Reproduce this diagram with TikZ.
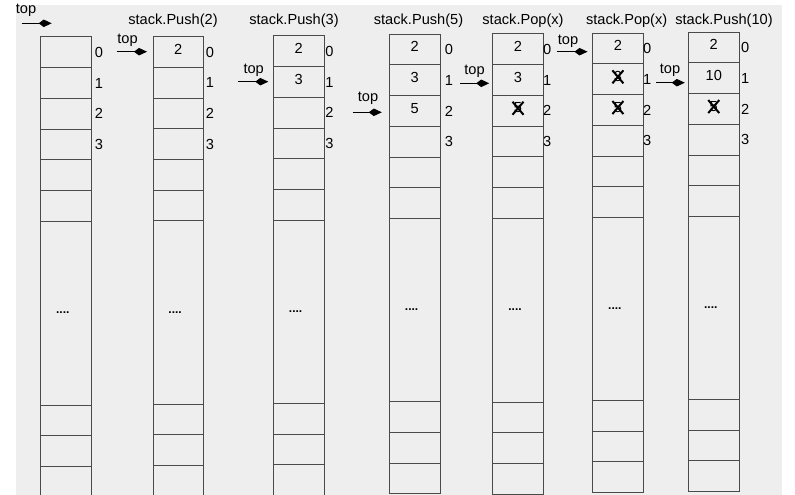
\documentclass[tikz,border=0pt]{standalone}
\usepackage{fontspec}
\setmainfont{Liberation Sans}
\usetikzlibrary{arrows.meta}
\definecolor{bgc}{HTML}{EEEEEE}
\definecolor{linec}{HTML}{4A4A4A}
\newcommand\stackcol[5]{%
  \pgfmathsetmacro\colw{#3-#2}%
  \foreach \i in {0,...,5}{%
    \node[cell, minimum width=\colw, minimum height=30.7] (#1r\i) at (#2,{#4+30.7*\i}) {};
  }%
  \node[cell, minimum width=\colw, minimum height={#5-#4-184.2}] (#1big) at (#2,{#4+184.2}) {};
  \node[dots] at ([xshift=-3pt]#1big.center) {....};
  \foreach \i in {0,1,2}{%
    \node[cell, minimum width=\colw, minimum height=30.7] (#1b\i) at (#2,{#5+30.7*\i}) {};
  }%
}
\newcommand\idxlabels[2]{%
  \foreach \i in {0,...,3}{\node[idxl] at ([xshift=#2pt]#1r\i.east) {\i};}%
}
\newcommand\crossout[1]{%
  \draw[xline] ([xshift=-5.5pt,yshift=9pt]#1.center) -- ([xshift=5.5pt,yshift=-4pt]#1.center);
  \draw[xline] ([xshift=5.5pt,yshift=9pt]#1.center) -- ([xshift=-5.5pt,yshift=-4pt]#1.center);
}
\begin{document}
\begin{tikzpicture}[x=1pt,y=-1pt,
  font=\fontsize{14.6}{17}\selectfont,
  cell/.style={draw=linec, line width=1pt, inner sep=0pt, outer sep=0pt, anchor=north west},
  dots/.style={inner sep=0pt, font=\bfseries\fontsize{12}{14}\selectfont},
  idxl/.style={inner sep=0pt},
  val/.style={inner sep=0pt, yshift=3pt},
  xline/.style={line width=2pt, black},
  title/.style={inner sep=0pt},
  toplbl/.style={inner sep=0pt},
  ptr/.style={line width=1pt, -{Kite[length=13pt,width=7.5pt,inset=5pt]}}]
\useasboundingbox (0,0) rectangle (795,495);
\fill[bgc] (16,5) rectangle (782,495);

% columns
\stackcol{a}{40}{91.5}{37}{405}
\stackcol{b}{153}{203.3}{36.7}{404}
\stackcol{c}{273.3}{324}{36}{403.3}
\stackcol{d}{389.3}{440}{34.3}{401.7}
\stackcol{e}{492.7}{543.3}{34}{402}
\stackcol{f}{592.5}{643.3}{33.3}{400.3}
\stackcol{g}{688.3}{739.2}{32.3}{399.3}

% index labels
\idxlabels{a}{7.5}
\idxlabels{b}{6.7}
\idxlabels{c}{5.5}
\idxlabels{d}{9}
\idxlabels{e}{4}
\idxlabels{f}{4}
\idxlabels{g}{6}

% titles
\node[title] at (173,21) {stack.Push(2)};
\node[title] at (294,21) {stack.Push(3)};
\node[title] at (418.5,21) {stack.Push(5)};
\node[title] at (523,21) {stack.Pop(x)};
\node[title] at (626.7,21) {stack.Pop(x)};
\node[title] at (724,21) {stack.Push(10)};

% values
\node[val] at (br0) {2};
\node[val] at (cr0) {2};
\node[val] at (cr1) {3};
\node[val] at (dr0) {2};
\node[val] at (dr1) {3};
\node[val] at (dr2) {5};
\node[val] at (er0) {2};
\node[val] at (er1) {3};
\node[val] at (er2) {5};
\crossout{er2}
\node[val] at (fr0) {2};
\node[val] at (fr1) {3};
\crossout{fr1}
\node[val] at (fr2) {5};
\crossout{fr2}
\node[val] at (gr0) {2};
\node[val] at (gr1) {10};
\node[val] at (gr2) {5};
\crossout{gr2}

% top pointers
\coordinate (t1s) at (21.7,23.3);
\coordinate (t1e) at (51.7,23.3);
\node[toplbl] at (26,10) {top};
\draw[ptr] (t1s) -- (t1e);

\coordinate (t2s) at (116.7,51.7);
\node[toplbl] at (127.5,40) {top};
\draw[ptr, shorten >=6pt] (t2s) -- (t2s -| br0.west);

\coordinate (t3s) at (238.3,81.7);
\node[toplbl] at (253.7,70.5) {top};
\draw[ptr, shorten >=5pt] (t3s) -- (t3s -| cr1.west);

\coordinate (t4s) at (352.7,112.3);
\node[toplbl] at (368,98) {top};
\draw[ptr, shorten >=7.5pt] (t4s) -- (t4s -| dr2.west);

\coordinate (t5s) at (460,83.3);
\node[toplbl] at (474.5,71.5) {top};
\draw[ptr, shorten >=3.5pt] (t5s) -- (t5s -| er1.west);

\coordinate (t6s) at (557.3,51.7);
\node[toplbl] at (568,41) {top};
\draw[ptr, shorten >=5pt] (t6s) -- (t6s -| fr0.west);

\coordinate (t7s) at (656,82.7);
\node[toplbl] at (670,70) {top};
\draw[ptr, shorten >=3.5pt] (t7s) -- (t7s -| gr1.west);
\end{tikzpicture}
\end{document}
